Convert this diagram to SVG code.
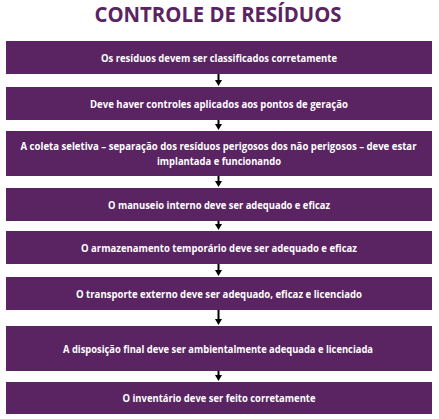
<svg xmlns="http://www.w3.org/2000/svg" width="439" height="419" viewBox="0 0 439 419">
<style>
.box{fill:#5a2462;}
.t{fill:#ffffff;font-family:"Open Sans","Noto Sans","Liberation Sans",sans-serif;font-weight:bold;font-size:11px;text-anchor:middle;}
.title{fill:#5a2462;font-family:"Open Sans","Noto Sans","Liberation Sans",sans-serif;font-weight:bold;font-size:21px;text-anchor:middle;}
.c{stroke:#000000;stroke-width:2;fill:none;marker-end:url(#ah);}
</style>
<defs>
<marker id="ah" viewBox="0 -3.5 6 7" refX="0" refY="0" markerWidth="6" markerHeight="7" markerUnits="userSpaceOnUse" orient="auto">
<path d="M0,-3.5 L6,0 L0,3.5 Z" fill="#000000"/>
</marker>
</defs>
<rect width="439" height="419" fill="#ffffff"/>
<text class="title" x="218" y="21.5" textLength="247" lengthAdjust="spacingAndGlyphs">CONTROLE DE RESÍDUOS</text>
<g id="connectors">
<line class="c" x1="218.5" y1="74" x2="218.5" y2="80"/>
<line class="c" x1="218.5" y1="120" x2="218.5" y2="124"/>
<line class="c" x1="218.5" y1="176" x2="218.5" y2="181"/>
<line class="c" x1="218.5" y1="221" x2="218.5" y2="224"/>
<line class="c" x1="218.5" y1="264" x2="218.5" y2="270"/>
<line class="c" x1="218.5" y1="310" x2="218.5" y2="319"/>
<line class="c" x1="218.5" y1="371" x2="218.5" y2="375"/>
</g>
<g id="n1"><rect class="box" x="6" y="41" width="426" height="33"/><text class="t" x="219" y="61.5" textLength="236" lengthAdjust="spacingAndGlyphs">Os resíduos devem ser classificados corretamente</text></g>
<g id="n2"><rect class="box" x="6" y="87" width="426" height="33"/><text class="t" x="219" y="107.5" textLength="258" lengthAdjust="spacingAndGlyphs">Deve haver controles aplicados aos pontos de geração</text></g>
<g id="n3"><rect class="box" x="6" y="131" width="426" height="45"/><text class="t" transform="translate(218.5 150) scale(0.8 1)" x="0" y="0" textLength="495" lengthAdjust="spacingAndGlyphs">A coleta seletiva – separação dos resíduos perigosos dos não perigosos – deve estar</text><text class="t" x="219" y="165" textLength="124" lengthAdjust="spacingAndGlyphs">implantada e funcionando</text></g>
<g id="n4"><rect class="box" x="6" y="188" width="426" height="33"/><text class="t" x="219" y="208.5" textLength="222" lengthAdjust="spacingAndGlyphs">O manuseio interno deve ser adequado e eficaz</text></g>
<g id="n5"><rect class="box" x="6" y="231" width="426" height="33"/><text class="t" x="219" y="251.5" textLength="276" lengthAdjust="spacingAndGlyphs">O armazenamento temporário deve ser adequado e eficaz</text></g>
<g id="n6"><rect class="box" x="6" y="277" width="426" height="33"/><text class="t" x="219" y="297.5" textLength="286" lengthAdjust="spacingAndGlyphs">O transporte externo deve ser adequado, eficaz e licenciado</text></g>
<g id="n7"><rect class="box" x="6" y="326" width="426" height="45"/><text class="t" x="218" y="352.5" textLength="310" lengthAdjust="spacingAndGlyphs">A disposição final deve ser ambientalmente adequada e licenciada</text></g>
<g id="n8"><rect class="box" x="6" y="382" width="426" height="32"/><text class="t" x="219" y="402" textLength="193" lengthAdjust="spacingAndGlyphs">O inventário deve ser feito corretamente</text></g>
</svg>
